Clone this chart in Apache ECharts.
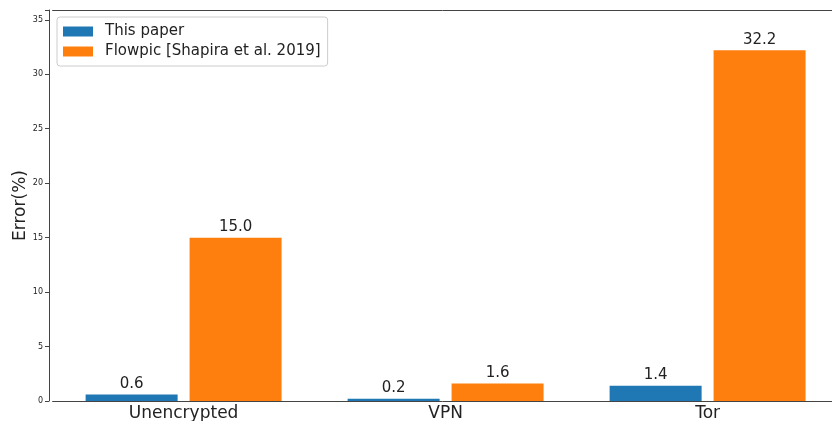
<!DOCTYPE html>
<html><head><meta charset="utf-8">
<script src="https://cdn.jsdelivr.net/npm/echarts@6/dist/echarts.min.js"></script>
<style>html,body{margin:0;padding:0;background:#fff;overflow:hidden}#c{width:832px;height:421px}</style>
</head><body><div id="c"></div>
<script>
const categories = ['Unencrypted', 'VPN', 'Tor'];
const thisPaper = [0.6, 0.2, 1.4];
const flowpic = [15.0, 1.6, 32.2];
const seriesNames = ['This paper', 'Flowpic [Shapira et al. 2019]'];
const yTicks = [0, 5, 10, 15, 20, 25, 30, 35];

const chart = echarts.init(document.getElementById('c'), null, {renderer: 'canvas'});
const font = 'DejaVu Sans';
const axisColor = '#444';
const label = {show: true, position: 'top', distance: 3, fontFamily: font, fontSize: 15, color: '#222',
  formatter: p => p.value.toFixed(1)};
chart.setOption({
  animation: false,
  grid: {left: 52.6, top: 10, width: 786, bottom: 20, show: false,
    containLabel: false, outerBoundsMode: 'none'},
  legend: {
    left: 57, top: 17, orient: 'vertical', itemWidth: 30, itemHeight: 10, itemGap: 3,
    padding: [6, 7, 6, 6], borderColor: '#ccc', borderWidth: 1, borderRadius: 3,
    textStyle: {fontFamily: font, fontSize: 15, color: '#222', lineHeight: 17, padding: [0, 0, 0, 7]},
    data: seriesNames.map(n => ({name: n, icon: 'rect'}))
  },
  xAxis: [{
    type: 'category', data: categories,
    axisLine: {lineStyle: {color: axisColor}},
    axisTick: {alignWithLabel: true, length: 4, lineStyle: {color: axisColor}},
    axisLabel: {fontFamily: font, fontSize: 17, color: '#222', margin: 4}
  }, {
    type: 'category', data: categories, position: 'top',
    axisLine: {show: true, lineStyle: {color: axisColor}},
    axisTick: {show: false}, axisLabel: {show: false}
  }],
  yAxis: {
    type: 'value', min: 0, max: 35.9, interval: 5, offset: 3.6,
    name: 'Error(%)', nameLocation: 'middle', nameGap: 20, nameMoveOverlap: false,
    nameTextStyle: {fontFamily: font, fontSize: 17, color: '#222'},
    axisLine: {show: true, lineStyle: {color: axisColor}},
    axisTick: {show: true, length: 4, lineStyle: {color: axisColor}},
    axisLabel: {fontFamily: font, fontSize: 8, color: '#222', margin: 6,
      formatter: v => yTicks.includes(v) ? String(v) : ''},
    splitLine: {show: false}
  },
  series: [
    {name: seriesNames[0], type: 'bar', data: thisPaper, barWidth: 92, barGap: '13%',
      itemStyle: {color: '#1f77b4'}, label},
    {name: seriesNames[1], type: 'bar', data: flowpic, barWidth: 92, barGap: '13%',
      itemStyle: {color: '#ff7f0e'}, label}
  ]
});
</script></body></html>
